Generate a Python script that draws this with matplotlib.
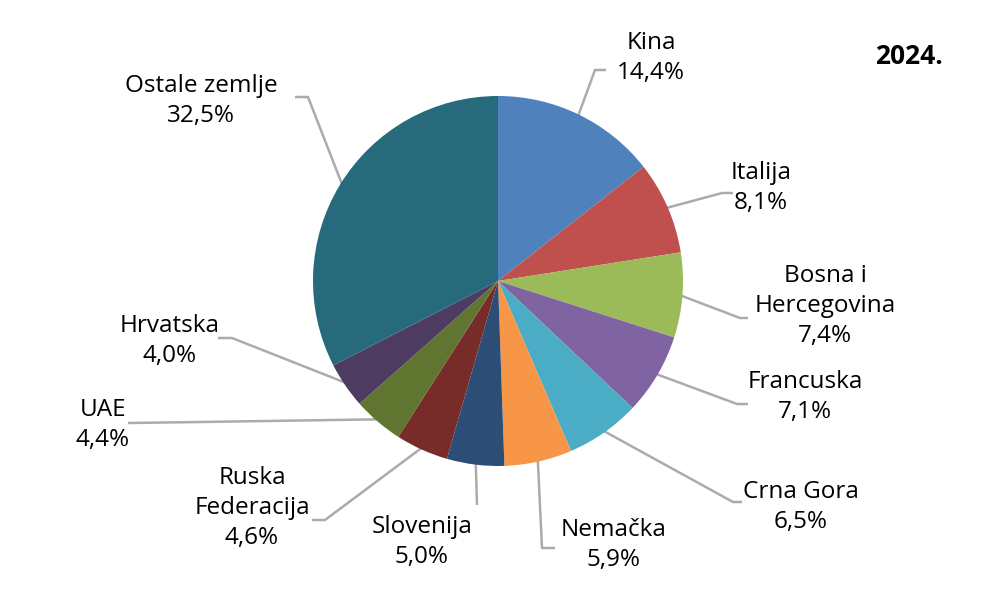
import numpy as np
import matplotlib.pyplot as plt

plt.rcParams['font.family'] = ['Open Sans', 'DejaVu Sans']

countries = ['Kina', 'Italija', 'Bosna i\nHercegovina', 'Francuska', 'Crna Gora',
             'Nemačka', 'Slovenija', 'Ruska\nFederacija', 'UAE', 'Hrvatska', 'Ostale zemlje']
shares = [14.4, 8.1, 7.4, 7.1, 6.5, 5.9, 5.0, 4.6, 4.4, 4.0, 32.5]
colors = ['#4F81BD', '#C0504D', '#9BBB59', '#8064A2', '#4BACC6', '#F79646',
          '#2C4D75', '#772C2A', '#5F7530', '#4D3B62', '#276A7C']
year = '2024.'

# layout in pixel coords (y measured from top)
label_pos = [(651, 58), (761, 188), (825, 306), (805, 397), (801, 507), (614, 545),
             (422, 542), (252, 508), (103, 425), (170, 341), (201, 101)]
elbows = [(595, 70), (722, 193), (740, 318), (737, 404), (733, 502), (542, 548),
          (477, 505), (325, 520), (200, 422), (232, 338), (308, 97)]
ends = [(606, 70), (733, 193), (748, 318), (748, 404), (742, 502), (555, 548),
        (477, 505), (312, 520), (128, 423), (218, 338), (295, 97)]

W, H = 1000, 605
cx, cy, r = 498, 281, 185

fig = plt.figure(figsize=(10, 6.05), dpi=100)
ax = fig.add_axes([0, 0, 1, 1])

wedges, _ = ax.pie(shares, colors=colors, startangle=90, counterclock=False,
                   center=(cx, H - cy), radius=r, frame=True)
ax.set_xlim(0, W)
ax.set_ylim(0, H)
ax.set_aspect('equal')
ax.axis('off')

for w, name, val, (lx, ly), (ex, ey), (tx, ty) in zip(wedges, countries, shares,
                                                      label_pos, elbows, ends):
    ang = np.deg2rad((w.theta1 + w.theta2) / 2)
    sx = cx + (r - 3) * np.cos(ang)
    sy = H - cy + (r - 3) * np.sin(ang)
    ax.plot([sx, ex, tx], [sy, H - ey, H - ty], color='#ABABAB', lw=1.8,
            solid_capstyle='butt', zorder=0)
    txt = name + '\n' + f'{val:.1f}'.replace('.', ',') + '%'
    ax.text(lx, H - ly, txt, ha='center', va='center', fontsize=17.5,
            linespacing=1.35, color='#000000')

ax.text(909, H - 57, year, ha='center', va='center', fontsize=19,
        fontweight='bold', color='#000000')

fig.savefig('out.png', dpi=100)
